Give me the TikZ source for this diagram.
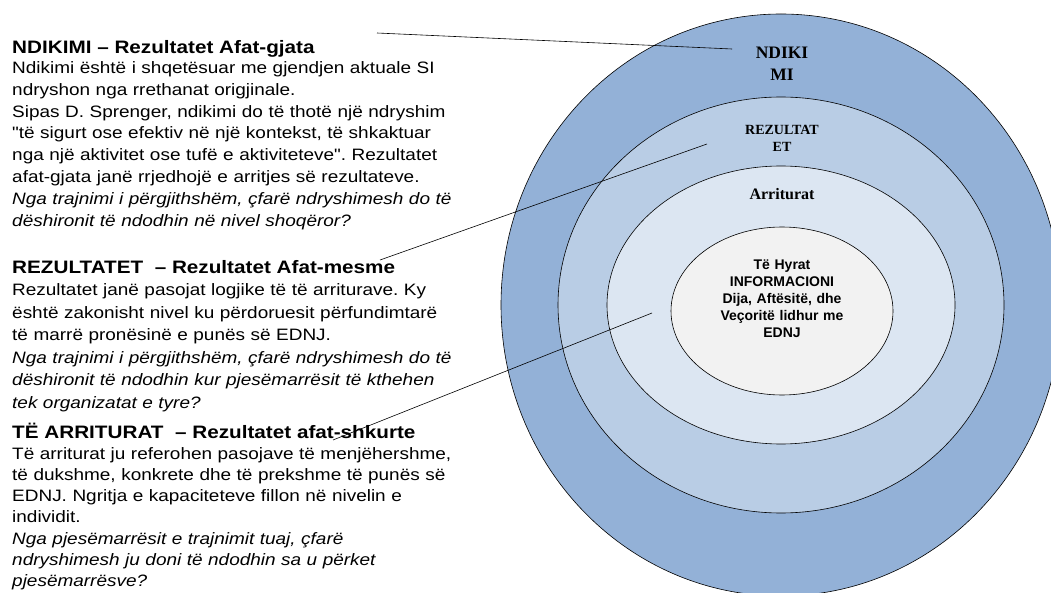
\documentclass[tikz,border=0pt]{standalone}
\usepackage{fontspec}
\setmainfont{Liberation Sans}
\newfontfamily\sidefont{Liberation Sans}[FakeStretch=1.15]
\newfontfamily\ringfont{Liberation Serif}
\frenchspacing
\definecolor{ringA}{HTML}{93B1D7}
\definecolor{ringB}{HTML}{B9CDE5}
\definecolor{ringC}{HTML}{DCE6F2}
\definecolor{ringD}{HTML}{F2F2F2}
\tikzset{
  ring/.style={draw=black, line width=0.6pt},
  heading/.style={anchor=base west, inner sep=0pt, font=\sidefont\bfseries\fontsize{18}{22}\selectfont},
  bodytext/.style={anchor=base west, inner sep=0pt, align=left, text width=520pt, font=\sidefont\fontsize{16.5}{21.8}\selectfont},
  ringlabel/.style={anchor=base, inner sep=0pt, align=center, text width=200pt},
  leader/.style={draw=black, line width=0.6pt}
}
\begin{document}
\begin{tikzpicture}[x=1pt,y=-1pt]
\useasboundingbox (0,0) rectangle (1051,593);
\fill[white] (0,0) rectangle (1051,593);
\filldraw[ring, fill=ringA] (781,305) ellipse [x radius=280pt, y radius=291pt];
\filldraw[ring, fill=ringB] (781,305) ellipse [x radius=223pt, y radius=208pt];
\filldraw[ring, fill=ringC] (781,305) ellipse [x radius=174pt, y radius=139pt];
\filldraw[ring, fill=ringD] (782,311) ellipse [x radius=111pt, y radius=84pt];

\node[ringlabel, font=\ringfont\bfseries\fontsize{17.5}{22}\selectfont] (ndikiL) at (782,59) {NDIKI\\MI};
\node[ringlabel, font=\ringfont\bfseries\fontsize{14}{17}\selectfont] (rezL) at (782,135) {REZULTAT\\ET};
\node[ringlabel, font=\ringfont\bfseries\fontsize{16}{20}\selectfont] (arrL) at (782,200) {Arriturat};
\node[ringlabel, font=\bfseries\fontsize{14}{16.8}\selectfont] (hyratL) at (782,270) {Të Hyrat\\INFORMACIONI\\Dija, Aftësitë, dhe\\Veçoritë lidhur me\\EDNJ};

\node[heading] (ndikimiT) at (12,53.5) {NDIKIMI – Rezultatet Afat-gjata};
\node[bodytext] (ndikimiB) at (12,73.5) {Ndikimi është i shqetësuar me gjendjen aktuale SI\\
ndryshon nga rrethanat origjinale.\\
Sipas D. Sprenger, ndikimi do të thotë një ndryshim\\
"të sigurt ose efektiv në një kontekst, të shkaktuar\\
nga një aktivitet ose tufë e aktiviteteve". Rezultatet\\
afat-gjata janë rrjedhojë e arritjes së rezultateve.\\
\textit{Nga trajnimi i përgjithshëm, çfarë ndryshimesh do të}\\
\textit{dëshironit të ndodhin në nivel shoqëror?}};

\node[heading] (rezT) at (12,273.5) {REZULTATET \ – Rezultatet Afat-mesme};
\node[bodytext, font=\sidefont\fontsize{16.5}{22.5}\selectfont] (rezB) at (12,295.5) {Rezultatet janë pasojat logjike të të arriturave. Ky\\
është zakonisht nivel ku përdoruesit përfundimtarë\\
të marrë pronësinë e punës së EDNJ.\\
\textit{Nga trajnimi i përgjithshëm, çfarë ndryshimesh do të}\\
\textit{dëshironit të ndodhin kur pjesëmarrësit të kthehen}\\
\textit{tek organizatat e tyre?}};

\node[heading] (arrT) at (12,438.5) {TË ARRITURAT \ – Rezultatet afat-shkurte};
\node[bodytext, font=\sidefont\fontsize{16.5}{21.3}\selectfont] (arrB) at (12,459) {Të arriturat ju referohen pasojave të menjëhershme,\\
të dukshme, konkrete dhe të prekshme të punës së\\
EDNJ. Ngritja e kapaciteteve fillon në nivelin e\\
individit.\\
\textit{Nga pjesëmarrësit e trajnimit tuaj, çfarë}\\
\textit{ndryshimesh ju doni të ndodhin sa u përket}\\
\textit{pjesëmarrësve?}};

\coordinate (ndikimiS) at (377,33);
\coordinate (ndikimiE) at (732,49);
\coordinate (rezS) at (380,260);
\coordinate (rezE) at (707,144);
\coordinate (arrS) at (333,440);
\coordinate (arrE) at (652,313);
\draw[leader] (ndikimiS) -- (ndikimiE);
\draw[leader] (rezS) -- (rezE);
\draw[leader] (arrS) -- (arrE);
\end{tikzpicture}
\end{document}
